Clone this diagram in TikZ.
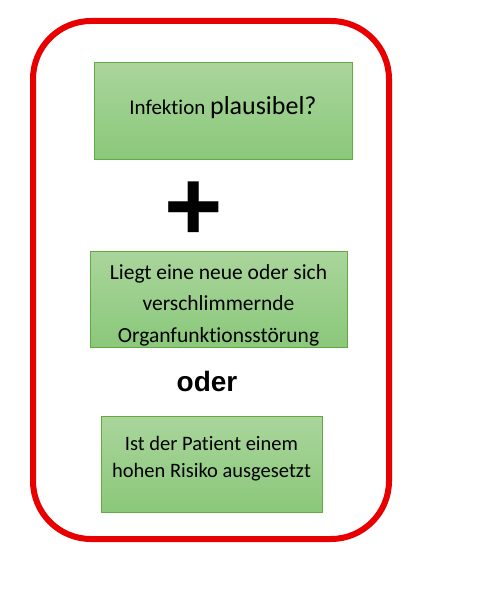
\documentclass[tikz,border=0pt]{standalone}
\usepackage{fontspec}
\setmainfont{Carlito}[Ligatures=NoCommon]
\newfontfamily\arialfont{Liberation Sans}
\definecolor{boxtop}{RGB}{170,213,156}
\definecolor{boxbottom}{RGB}{138,200,122}
\definecolor{boxline}{RGB}{98,170,64}
\definecolor{rahmenrot}{RGB}{232,0,0}

\begin{document}
\begin{tikzpicture} [
        x=1pt, y=-1pt,
        kasten/.style={draw=boxline, rectangle, line width=1pt, top color=boxtop, bottom color=boxbottom, align=center, inner sep=0pt},
        rahmen/.style={draw=rahmenrot, line width=6pt, rounded corners=58pt} ]
    \useasboundingbox (0,0) rectangle (484,602);
    \draw[rahmen] (33,21) rectangle (389,539);
    \node[kasten, minimum width=258pt, minimum height=96pt] (infekt) at (223,111)
        {\raisebox{11pt}{\fontsize{21pt}{24pt}\selectfont Infektion \fontsize{26pt}{30pt}\selectfont plausibel?}};
    \node[font=\arialfont\bfseries\fontsize{100pt}{100pt}\selectfont] (plus) at (193.5,211) {+};
    \node[kasten, minimum width=257pt, minimum height=96pt,
        font=\fontsize{21.5pt}{31.5pt}\selectfont] (organ) at (218.5,299)
        {\\[-4pt]Liegt eine neue oder sich\\verschlimmernde\\Organfunktionsstörung};
    \node[font=\arialfont\bfseries\fontsize{28pt}{30pt}\selectfont] (oder) at (207,381) {oder};
    \node[kasten, minimum width=221pt, minimum height=96pt,
        font=\fontsize{20.5pt}{27pt}\selectfont] (risiko) at (211.5,464)
        {Ist der Patient einem\\hohen Risiko ausgesetzt\\[-12pt]};
\end{tikzpicture}
\end{document}
